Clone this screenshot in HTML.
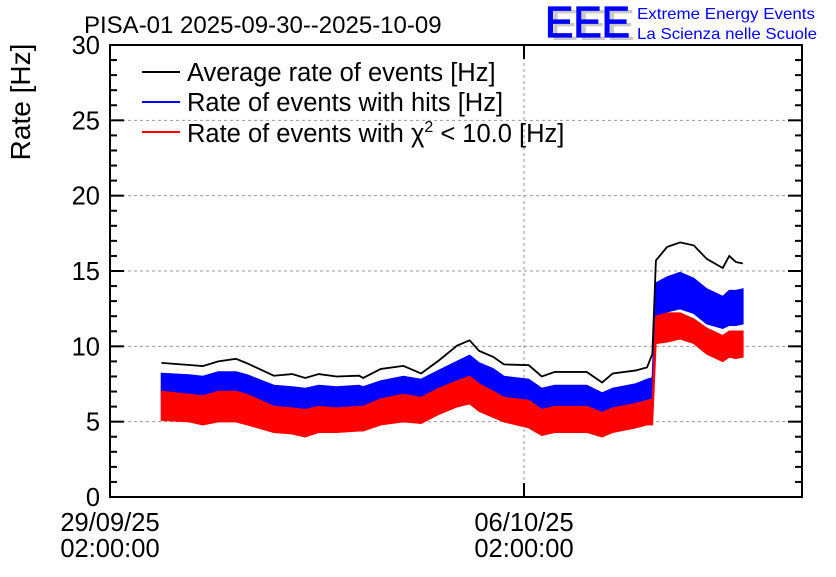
<!DOCTYPE html>
<html><head><meta charset="utf-8"><style>
body{margin:0;background:#fff}
svg text{font-family:"Liberation Sans",sans-serif}
</style></head><body>
<svg id="c" width="836" height="572" xmlns="http://www.w3.org/2000/svg">
<rect width="836" height="572" fill="#fff"/>
<g id="grid"></g>
<g id="series"></g>
<g id="axes"></g>
<text x="84" y="33" font-size="24">PISA-01 2025-09-30--2025-10-09</text>
<g>
<text x="550" y="40" font-size="44" fill="#c8c8c8" textLength="85" lengthAdjust="spacingAndGlyphs">EEE</text>
<text x="545" y="37" font-size="44" fill="#0000ff" stroke="#0000ff" stroke-width="1.2" textLength="85" lengthAdjust="spacingAndGlyphs">EEE</text>
<text x="637" y="19" font-size="16" fill="#0000ff" textLength="178" lengthAdjust="spacingAndGlyphs">Extreme Energy Events</text>
<text x="637" y="39" font-size="16" fill="#0000ff" textLength="180" lengthAdjust="spacingAndGlyphs">La Scienza nelle Scuole</text>
</g>
<text transform="translate(30,102) rotate(-90)" text-anchor="middle" font-size="28">Rate [Hz]</text>
<g>
<line x1="142" y1="72" x2="180" y2="72" stroke="#000" stroke-width="2"/>
<text x="187" y="81" font-size="25.5">Average rate of events [Hz]</text>
<line x1="142" y1="102" x2="180" y2="102" stroke="#00f" stroke-width="2"/>
<text x="187" y="111" font-size="25.5">Rate of events with hits [Hz]</text>
<line x1="142" y1="132" x2="180" y2="132" stroke="#f00" stroke-width="2"/>
<text x="187" y="142" font-size="25.5">Rate of events with χ<tspan font-size="16" dy="-10">2</tspan><tspan dy="10"> &lt; 10.0 [Hz]</tspan></text>
</g>
</svg>
<script>
const days=[0.87,1.34,1.57,1.83,2.13,2.32,2.77,3.08,3.30,3.53,3.83,4.21,4.28,4.58,4.96,5.26,5.56,5.87,6.08,6.24,6.48,6.66,7.08,7.30,7.52,8.06,8.32,8.50,8.89,9.08,9.17,9.23,9.42,9.64,9.87,10.09,10.36,10.47,10.58,10.70];
const avgRate=[8.9,8.76,8.69,9.0,9.17,8.87,8.05,8.16,7.9,8.16,8.0,8.05,7.9,8.5,8.7,8.2,9.06,10.05,10.4,9.7,9.3,8.8,8.75,8.0,8.3,8.3,7.6,8.2,8.4,8.6,9.5,15.7,16.6,16.9,16.7,15.8,15.2,16.0,15.6,15.5];
const hitsHigh=[8.2,8.1,8.0,8.3,8.3,8.1,7.4,7.3,7.2,7.4,7.3,7.4,7.3,7.7,8.0,7.8,8.4,9.0,9.4,8.9,8.5,8.0,7.8,7.2,7.4,7.4,6.9,7.2,7.5,7.8,7.9,14.2,14.6,14.9,14.5,13.8,13.3,13.7,13.7,13.8];
const hitsLow=[6.5,6.4,6.3,6.5,6.6,6.3,5.6,5.5,5.4,5.6,5.5,5.6,5.6,6.0,6.2,6.0,6.6,7.2,7.4,7.0,6.6,6.2,6.0,5.4,5.6,5.6,5.1,5.5,5.8,6.0,6.0,11.8,12.3,12.5,12.2,11.5,11.2,11.4,11.4,11.5];
const chiHigh=[7.0,6.8,6.7,7.0,7.0,6.8,6.0,5.9,5.8,6.0,5.9,6.0,6.0,6.5,6.8,6.6,7.2,7.7,8.0,7.5,7.0,6.6,6.4,5.8,6.0,6.0,5.6,5.9,6.2,6.4,6.5,12.0,12.2,12.2,11.8,11.2,10.7,11.0,11.0,11.0];
const chiLow=[5.1,5.0,4.8,5.0,5.0,4.8,4.3,4.2,4.0,4.3,4.3,4.4,4.4,4.8,5.0,4.9,5.5,6.0,6.2,5.7,5.3,5.0,4.6,4.1,4.3,4.3,4.0,4.3,4.6,4.8,4.8,10.2,10.3,10.5,10.2,9.5,9.0,9.3,9.2,9.3];
const yTicks=[0,5,10,15,20,25,30];
const xTickDays=[0,7];
const xTickDates=["29/09/25","06/10/25"];
const xTickTimes=["02:00:00","02:00:00"];

const L=110,R=802,T=45,B=497,DAYSPAN=11.7,YMAX=30;
const X=d=>L+d*(R-L)/DAYSPAN;
const Y=v=>B-v*(B-T)/YMAX;
const NS="http://www.w3.org/2000/svg";
function mk(tag,attrs,parent){const e=document.createElementNS(NS,tag);for(const k in attrs)e.setAttribute(k,attrs[k]);parent.appendChild(e);return e;}
const grid=document.getElementById('grid'),series=document.getElementById('series'),axes=document.getElementById('axes');

yTicks.forEach(v=>{if(v>0&&v<YMAX){const g=mk('line',{x1:L,x2:R,y1:Y(v),y2:Y(v),stroke:'#999','stroke-dasharray':'3,3','stroke-width':1},grid);

}});
xTickDays.forEach(d=>{const g=mk('line',{x1:X(d),x2:X(d),y1:T,y2:B,stroke:'#999','stroke-dasharray':'3,3','stroke-width':1},grid);

});

function band(hi,lo,color,name){
  let pts=days.map((d,i)=>X(d)+','+Y(hi[i]));
  for(let i=days.length-1;i>=0;i--)pts.push(X(days[i])+','+Y(lo[i]));
  const p=mk('polygon',{points:pts.join(' '),fill:color,stroke:color,'stroke-width':1.5,'stroke-linejoin':'miter'},series);
  
  
}
band(hitsHigh,hitsLow,'#0000ff','hits-rate-band');
band(chiHigh,chiLow,'#ff0000','chi2-rate-band');
const avg=mk('polyline',{points:days.map((d,i)=>X(d)+','+Y(avgRate[i])).join(' '),fill:'none',stroke:'#000','stroke-width':1.8},series);



const fr=mk('rect',{x:L,y:T,width:R-L,height:B-T,fill:'none',stroke:'#000','stroke-width':2},axes);


for(let v=0;v<=YMAX;v++){const len=(v%5===0)?14:7;
  mk('line',{x1:L,x2:L+len,y1:Y(v),y2:Y(v),stroke:'#000','stroke-width':2},axes);
  mk('line',{x1:R,x2:R-len,y1:Y(v),y2:Y(v),stroke:'#000','stroke-width':2},axes);}
yTicks.forEach(v=>{const t=mk('text',{x:L-10,y:Y(v)+9,'text-anchor':'end','font-size':25.5},axes);t.textContent=v;

});
xTickDays.forEach((d,i)=>{mk('line',{x1:X(d),x2:X(d),y1:B,y2:B-14,stroke:'#000','stroke-width':2},axes);
  mk('line',{x1:X(d),x2:X(d),y1:T,y2:T+14,stroke:'#000','stroke-width':2},axes);
  const a=mk('text',{x:X(d),y:531,'text-anchor':'middle','font-size':25.5},axes);a.textContent=xTickDates[i];
  
  
  const b=mk('text',{x:X(d),y:557,'text-anchor':'middle','font-size':25.5},axes);b.textContent=xTickTimes[i];
  
  });
</script>
</body></html>
